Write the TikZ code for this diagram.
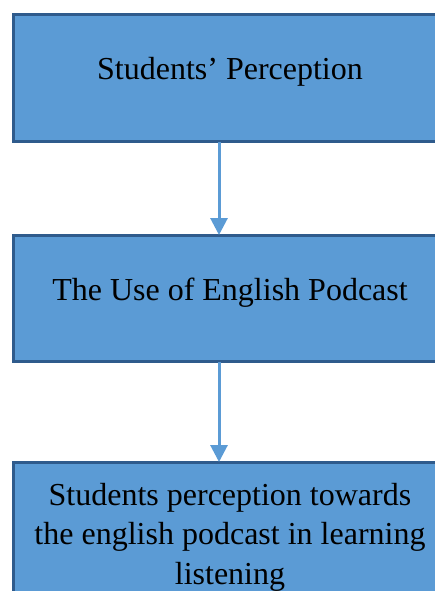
\documentclass[tikz,border=0pt]{standalone}
\usepackage{fontspec}
\setmainfont{Liberation Serif}
\usetikzlibrary{positioning,arrows.meta}
\definecolor{boxfill}{HTML}{5B9BD5}
\definecolor{boxline}{HTML}{2F5B8C}

\begin{document}
\begin{tikzpicture}[
  x=1pt, y=1pt,
  >={Triangle[width=17pt,length=17pt]},
  stage/.style={draw=boxline, line width=3pt, fill=boxfill, minimum width=434pt, minimum height=126.5pt, align=center, outer sep=0pt, inner sep=0pt, font=\fontsize{32}{39.5}\selectfont},
  raised/.style={text depth=19pt},
  arr/.style={->, draw=boxfill, line width=3pt}
]
  \useasboundingbox (0,0) rectangle (434,-591);
  \node[stage, raised] (perc) at (230,-78.25) {Students’ Perception};
  \node[stage, raised, below=93.5pt of perc] (podcast) {The Use of English Podcast};
  \node[stage, below=100.5pt of podcast, minimum height=150pt] (towards) {Students perception towards\\the english podcast in learning\\listening};
  \draw[arr] ([xshift=-11pt]perc.south) -- ([xshift=-11pt]podcast.north);
  \draw[arr] ([xshift=-11pt]podcast.south) -- ([xshift=-11pt]towards.north);
\end{tikzpicture}
\end{document}
